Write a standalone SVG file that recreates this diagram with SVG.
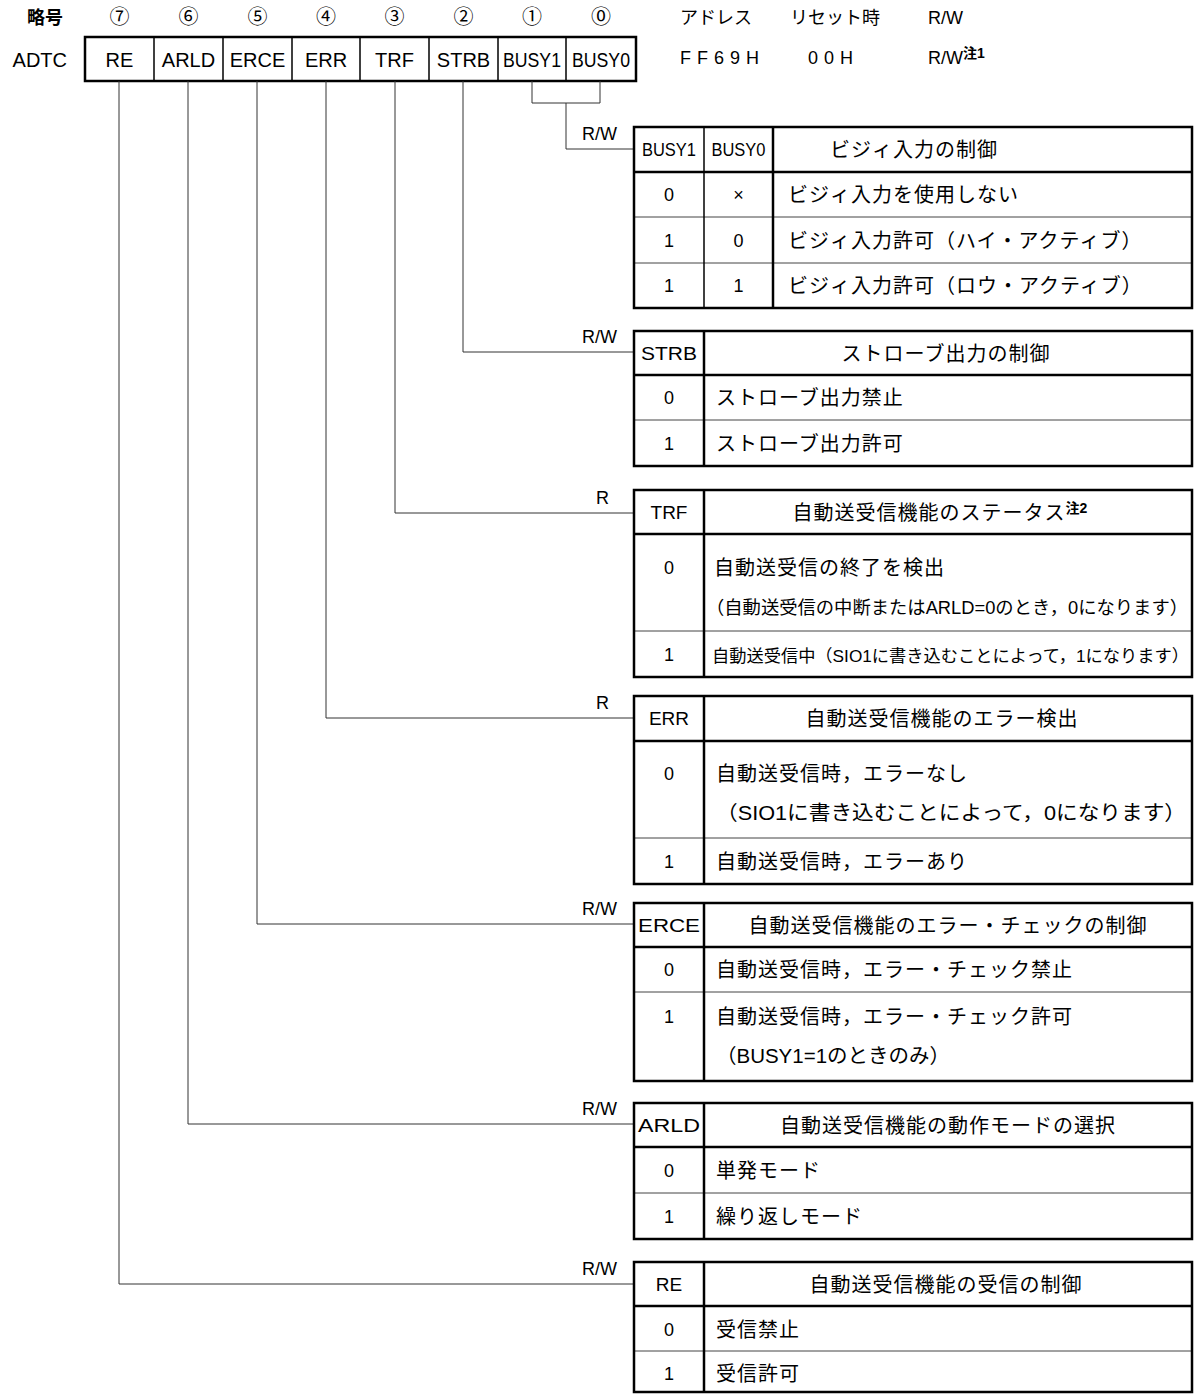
<svg xmlns="http://www.w3.org/2000/svg" width="1194" height="1394" viewBox="0 0 1194 1394">
<style>
text{font-family:"Liberation Sans","Noto Sans CJK JP",sans-serif;fill:#000}
.hd{font-size:18px}
.rg{font-size:20px;text-anchor:middle}
.k{font-size:19px;text-anchor:middle}
.d{font-size:18px;text-anchor:middle}
.j{font-size:20px;letter-spacing:1px}
.jc{font-size:20px;letter-spacing:1px;text-anchor:middle}
.lb{font-size:18px}
.sup{font-size:14px;font-weight:bold;letter-spacing:0}
.ob{fill:none;stroke:#000;stroke-width:2.5}
.tk{stroke:#000;stroke-width:2.5}
.tn{stroke:#444;stroke-width:1}
.sp{stroke:#000;stroke-width:1.5}
.cn{fill:none;stroke:#333;stroke-width:1}
</style>
<rect width="1194" height="1394" fill="#fff"/>

<g id="header">
<text class="hd" x="27" y="24" font-weight="bold">略号</text>
<text class="rg" x="119.5" y="24" font-size="18">⑦</text>
<text class="rg" x="188.5" y="24" font-size="18">⑥</text>
<text class="rg" x="257.5" y="24" font-size="18">⑤</text>
<text class="rg" x="326" y="24" font-size="18">④</text>
<text class="rg" x="394.5" y="24" font-size="18">③</text>
<text class="rg" x="463.5" y="24" font-size="18">②</text>
<text class="rg" x="532" y="24" font-size="18">①</text>
<text class="rg" x="601" y="24" font-size="18">⓪</text>
<text class="hd" x="680" y="24">アドレス</text>
<text class="hd" x="790" y="24">リセット時</text>
<text class="hd" x="928" y="24">R/W</text>
<text class="hd" x="680" y="64" letter-spacing="6">FF69H</text>
<text class="hd" x="808" y="64" letter-spacing="6">00H</text>
<text class="hd" x="928" y="64">R/W<tspan class="sup" dy="-6">注1</tspan></text>
</g>

<g id="register">
<text x="67" y="67" font-size="20" text-anchor="end">ADTC</text>
<rect class="ob" x="85" y="37" width="551" height="44"/>
<line class="sp" x1="154" y1="37" x2="154" y2="81"/>
<line class="sp" x1="223" y1="37" x2="223" y2="81"/>
<line class="sp" x1="292" y1="37" x2="292" y2="81"/>
<line class="sp" x1="360" y1="37" x2="360" y2="81"/>
<line class="sp" x1="429" y1="37" x2="429" y2="81"/>
<line class="sp" x1="498" y1="37" x2="498" y2="81"/>
<line class="sp" x1="566" y1="37" x2="566" y2="81"/>
<text class="rg" x="119.5" y="67">RE</text>
<text class="rg" x="188.5" y="67">ARLD</text>
<text class="rg" x="257.5" y="67">ERCE</text>
<text class="rg" x="326" y="67">ERR</text>
<text class="rg" x="394.5" y="67">TRF</text>
<text class="rg" x="463.5" y="67">STRB</text>
<text class="rg" x="532" y="67" textLength="58" lengthAdjust="spacingAndGlyphs">BUSY1</text>
<text class="rg" x="601" y="67" textLength="58" lengthAdjust="spacingAndGlyphs">BUSY0</text>
</g>

<g id="connectors">
<polyline class="cn" points="532,81 532,103 600,103 600,81"/>
<polyline class="cn" points="566,103 566,149 634,149"/>
<polyline class="cn" points="463,81 463,352 634,352"/>
<polyline class="cn" points="395,81 395,513 634,513"/>
<polyline class="cn" points="326,81 326,718 634,718"/>
<polyline class="cn" points="257,81 257,924 634,924"/>
<polyline class="cn" points="188,81 188,1124 634,1124"/>
<polyline class="cn" points="119,81 119,1284 634,1284"/>
<text class="lb" x="582" y="140">R/W</text>
<text class="lb" x="582" y="343">R/W</text>
<text class="lb" x="596" y="504">R</text>
<text class="lb" x="596" y="709">R</text>
<text class="lb" x="582" y="915">R/W</text>
<text class="lb" x="582" y="1115">R/W</text>
<text class="lb" x="582" y="1275">R/W</text>
</g>

<g id="busy">
<line class="tk" x1="634" y1="172" x2="1192" y2="172"/>
<line class="tn" x1="634" y1="217" x2="1192" y2="217"/>
<line class="tn" x1="634" y1="263" x2="1192" y2="263"/>
<line class="sp" x1="704" y1="127" x2="704" y2="308"/>
<line class="tk" x1="773" y1="127" x2="773" y2="308"/>
<rect class="ob" x="634" y="127" width="558" height="181"/>
<text class="d" x="669" y="156" textLength="54" lengthAdjust="spacingAndGlyphs">BUSY1</text>
<text class="d" x="738.5" y="156" textLength="54" lengthAdjust="spacingAndGlyphs">BUSY0</text>
<text class="j" x="830" y="157">ビジィ入力の制御</text>
<text class="d" x="669" y="201">0</text>
<text class="d" x="738.5" y="201">×</text>
<text class="j" x="788" y="202">ビジィ入力を使用しない</text>
<text class="d" x="669" y="247">1</text>
<text class="d" x="738.5" y="247">0</text>
<text class="j" x="788" y="248">ビジィ入力許可（ハイ・アクティブ）</text>
<text class="d" x="669" y="292">1</text>
<text class="d" x="738.5" y="292">1</text>
<text class="j" x="788" y="293">ビジィ入力許可（ロウ・アクティブ）</text>
</g>

<g id="strb">
<line class="tk" x1="634" y1="375" x2="1192" y2="375"/>
<line class="tn" x1="634" y1="420" x2="1192" y2="420"/>
<line class="tk" x1="704" y1="331" x2="704" y2="466"/>
<rect class="ob" x="634" y="331" width="558" height="135"/>
<text class="k" x="669" y="360" textLength="56" lengthAdjust="spacingAndGlyphs">STRB</text>
<text class="jc" x="946" y="361">ストローブ出力の制御</text>
<text class="d" x="669" y="404">0</text>
<text class="j" x="716" y="405">ストローブ出力禁止</text>
<text class="d" x="669" y="450">1</text>
<text class="j" x="716" y="451">ストローブ出力許可</text>
</g>

<g id="trf">
<line class="tk" x1="634" y1="534" x2="1192" y2="534"/>
<line class="tn" x1="634" y1="631" x2="1192" y2="631"/>
<line class="tk" x1="704" y1="490" x2="704" y2="677"/>
<rect class="ob" x="634" y="490" width="558" height="187"/>
<text class="k" x="669" y="519">TRF</text>
<text class="jc" x="940" y="520">自動送受信機能のステータス<tspan class="sup" dy="-7">注2</tspan></text>
<text class="d" x="669" y="574">0</text>
<text class="j" x="714" y="575">自動送受信の終了を検出</text>
<text x="706" y="614" font-size="18" textLength="482" lengthAdjust="spacingAndGlyphs">（自動送受信の中断またはARLD=0のとき，0になります）</text>
<text class="d" x="669" y="661">1</text>
<text x="712" y="662" font-size="17" textLength="477" lengthAdjust="spacingAndGlyphs">自動送受信中（SIO1に書き込むことによって，1になります）</text>
</g>

<g id="err">
<line class="tk" x1="634" y1="741" x2="1192" y2="741"/>
<line class="tn" x1="634" y1="838" x2="1192" y2="838"/>
<line class="tk" x1="704" y1="696" x2="704" y2="884"/>
<rect class="ob" x="634" y="696" width="558" height="188"/>
<text class="k" x="669" y="725">ERR</text>
<text class="jc" x="942" y="726">自動送受信機能のエラー検出</text>
<text class="d" x="669" y="780">0</text>
<text class="j" x="716" y="781">自動送受信時，エラーなし</text>
<text x="716" y="820" font-size="20" textLength="470" lengthAdjust="spacingAndGlyphs">（SIO1に書き込むことによって，0になります）</text>
<text class="d" x="669" y="868">1</text>
<text class="j" x="716" y="869">自動送受信時，エラーあり</text>
</g>

<g id="erce">
<line class="tk" x1="634" y1="947" x2="1192" y2="947"/>
<line class="tn" x1="634" y1="992" x2="1192" y2="992"/>
<line class="tk" x1="704" y1="903" x2="704" y2="1081"/>
<rect class="ob" x="634" y="903" width="558" height="178"/>
<text class="k" x="669" y="932" textLength="62" lengthAdjust="spacingAndGlyphs">ERCE</text>
<text class="jc" x="948" y="933">自動送受信機能のエラー・チェックの制御</text>
<text class="d" x="669" y="976">0</text>
<text class="j" x="716" y="977">自動送受信時，エラー・チェック禁止</text>
<text class="d" x="669" y="1023">1</text>
<text class="j" x="716" y="1024">自動送受信時，エラー・チェック許可</text>
<text x="716" y="1063" font-size="20" textLength="234" lengthAdjust="spacingAndGlyphs">（BUSY1=1のときのみ）</text>
</g>

<g id="arld">
<line class="tk" x1="634" y1="1147" x2="1192" y2="1147"/>
<line class="tn" x1="634" y1="1193" x2="1192" y2="1193"/>
<line class="tk" x1="704" y1="1103" x2="704" y2="1239"/>
<rect class="ob" x="634" y="1103" width="558" height="136"/>
<text class="k" x="669" y="1132" textLength="62" lengthAdjust="spacingAndGlyphs">ARLD</text>
<text class="jc" x="948" y="1133">自動送受信機能の動作モードの選択</text>
<text class="d" x="669" y="1177">0</text>
<text class="j" x="716" y="1178">単発モード</text>
<text class="d" x="669" y="1223">1</text>
<text class="j" x="716" y="1224">繰り返しモード</text>
</g>

<g id="re">
<line class="tk" x1="634" y1="1306" x2="1192" y2="1306"/>
<line class="tn" x1="634" y1="1351" x2="1192" y2="1351"/>
<line class="tk" x1="704" y1="1262" x2="704" y2="1392"/>
<rect class="ob" x="634" y="1262" width="558" height="130"/>
<text class="k" x="669" y="1291">RE</text>
<text class="jc" x="946" y="1292">自動送受信機能の受信の制御</text>
<text class="d" x="669" y="1336">0</text>
<text class="j" x="716" y="1337">受信禁止</text>
<text class="d" x="669" y="1380">1</text>
<text class="j" x="716" y="1381">受信許可</text>
</g>
</svg>
